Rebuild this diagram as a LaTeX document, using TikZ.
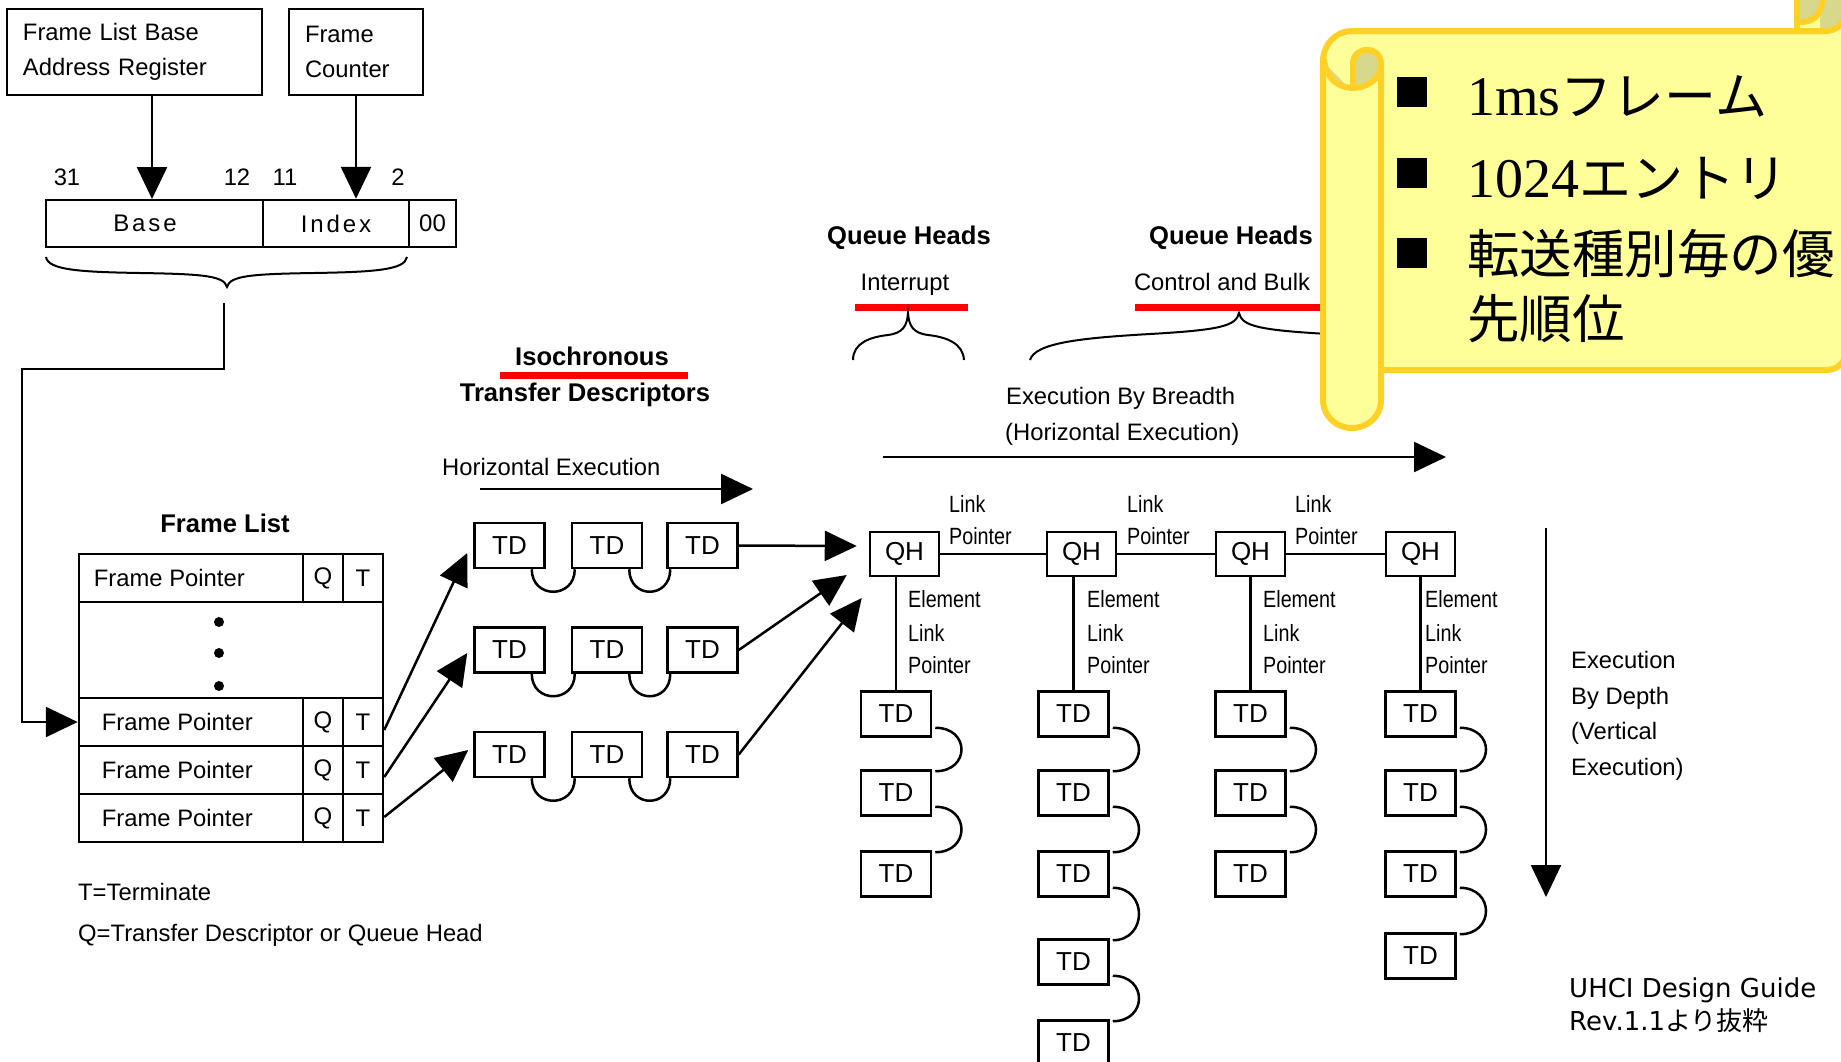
\documentclass[tikz,border=0pt]{standalone}
\usepackage{fontspec}
\setmainfont{Liberation Sans}
\newfontfamily\narrowfont[FakeStretch=0.84]{Liberation Sans}
\newfontfamily\cjkfont{Noto Sans CJK JP}
\newfontfamily\numserif{Liberation Serif}
\newfontfamily\dvsans{DejaVu Sans}
\usetikzlibrary{arrows.meta,calc}
\newcommand\myfs[1]{\fontsize{#1}{#1}\selectfont}
\definecolor{scrollfill}{RGB}{255,255,153}
\definecolor{scrollline}{RGB}{255,208,38}
\definecolor{scrolldark}{RGB}{216,216,140}
\tikzset{
  lbl/.style={inner sep=0pt, text height=17pt, text depth=0pt, font=\myfs{23.8}},
  nlbl/.style={inner sep=0pt, text height=17pt, text depth=0pt, font=\narrowfont\myfs{23.5}},
  blbl/.style={inner sep=0pt, text height=18pt, text depth=0pt, font=\myfs{25.6}\bfseries},
  cell/.style={draw, line width=2.5pt, inner sep=0pt, font=\myfs{24}},
  regbox/.style={draw, line width=2.5pt, minimum height=86pt, inner xsep=16pt, inner ysep=0pt, align=left, font=\fontsize{23.8}{35}\selectfont},
  tdbox/.style={draw, line width=2.5pt, inner sep=0pt, minimum width=70pt, minimum height=45pt, font=\myfs{26}},
  qhbox/.style={tdbox, minimum width=69pt, minimum height=44pt},
  conn/.style={line width=2.5pt},
  arr/.style={line width=2.5pt, -{Triangle[length=32pt,width=30pt]}},
  redbar/.style={line width=7pt, red},
  sstroke/.style={line width=6pt, draw=scrollline, line join=round, line cap=round},
  bulletsq/.style={fill=black, minimum size=30pt, inner sep=0pt},
}
\begin{document}
\begin{tikzpicture}[x=1pt,y=-1pt]
\useasboundingbox (0,0) rectangle (1841,1061);
\clip (0,0) rectangle (1841,1061);

% ---------- registers ----------
\node[regbox, text width=223pt] (flbar) at (134.5,52) {Frame List Base\\Address Register};
\node[regbox, text width=102pt] (fc) at (356,52) {Frame\\Counter};
\node[lbl] (n31) at (67,177) {31};
\node[lbl] (n12) at (237,177) {12};
\node[lbl] (n11) at (285,177) {11};
\node[lbl] (n2) at (398,177) {2};
\node[cell, minimum width=217pt, minimum height=47pt] (rbase) at (154.5,223.5) {};
\node[inner sep=0pt, font=\myfs{24}\addfontfeature{LetterSpace=12}] (rbaset) at (145,223.5) {Base};
\node[cell, minimum width=146pt, minimum height=47pt, font=\myfs{24}\addfontfeature{LetterSpace=12}] (ridx) at (336,223.5) {Index};
\node[cell, minimum width=47pt, minimum height=47pt] (rzz) at (432.5,223.5) {00};
\coordinate (basein) at (152,199);
\draw[arr] (flbar.south -| basein) -- (basein);
\draw[arr] (fc.south) -- (fc.south |- ridx.north);
\draw[line width=2pt] (46,257) .. controls (48,270) and (80,272) .. (140,273) .. controls (205,274) and (224,276) .. (227,287) .. controls (230,276) and (249,274) .. (314,273) .. controls (374,272) and (405,270) .. (407,257);

% ---------- frame list ----------
\node[blbl] (fltitle) at (225,523) {Frame List};
\node[cell, minimum width=224pt, minimum height=48pt] (fp0) at (191,578) {};
\node[cell, minimum width=40pt, minimum height=48pt] (q0) at (323,578) {Q};
\node[cell, minimum width=40pt, minimum height=48pt] (t0) at (363,578) {T};
\node[lbl, anchor=west] (fpt0) at ($(fp0.west)+(16,0)$) {Frame Pointer};
\node[cell, minimum width=304pt, minimum height=96pt] (dotbox) at (231,650) {};
\fill (219,622) circle (5pt);
\fill (219,653) circle (5pt);
\fill (219,686) circle (5pt);
\foreach \i/\y in {1/722,2/770,3/818} {
  \node[cell, minimum width=224pt, minimum height=48pt] (fp\i) at (191,\y) {};
  \node[cell, minimum width=40pt, minimum height=48pt] (q\i) at (323,\y) {Q};
  \node[cell, minimum width=40pt, minimum height=48pt] (t\i) at (363,\y) {T};
  \node[lbl, anchor=west] (fpt\i) at ($(fp\i.west)+(24,0)$) {Frame Pointer};
}
\coordinate (bstem) at (224,303);
\draw[arr] (bstem) -- (224,369) -- (22,369) |- (fp1.west);
\node[lbl, anchor=west] (leg1) at (78,892) {T=Terminate};
\node[lbl, anchor=west] (leg2) at (78,933) {Q=Transfer Descriptor or Queue Head};

% ---------- isochronous TDs ----------
\node[blbl] (isoA) at (592,356) {Isochronous};
\draw[redbar] (500,375) -- (688,375);
\node[blbl] (isoB) at (585,392) {Transfer Descriptors};
\node[lbl, anchor=west] (hexec) at (442,467) {Horizontal Execution};
\coordinate (hx0) at (480,489);
\coordinate (hx1) at (753,489);
\draw[arr] (hx0) -- (hx1);
\foreach \rw/\y in {1/545.5,2/650,3/754.5} {
  \foreach \cl/\x in {1/509.5,2/607,3/702.5} {
    \node[tdbox] (td\rw\cl) at (\x,\y) {TD};
  }
  \draw[conn] ($(td\rw1.south east)+(-14,0)$) .. controls +(0,30) and +(0,30) .. ($(td\rw2.south west)+(4,0)$);
  \draw[conn] ($(td\rw2.south east)+(-14,0)$) .. controls +(0,30) and +(0,30) .. ($(td\rw3.south west)+(4,0)$);
}
\draw[arr] ($(t1.east)+(0,8)$) -- ($(td11.west)+(-6,7.5)$);
\draw[arr] ($(t2.east)+(0,7)$) -- ($(td21.west)+(-6,3)$);
\draw[arr] ($(t3.east)+(0,-1)$) -- ($(td31.west)+(-5,-4.5)$);

% ---------- queue heads ----------
\node[blbl] (qhA) at (909,235) {Queue Heads};
\node[lbl] (intr) at (905,282) {Interrupt};
\draw[redbar] (855,307) -- (968,307);
\node[blbl] (qhB) at (1231,235) {Queue Heads};
\node[lbl] (cab) at (1222,282) {Control and Bulk};
\draw[redbar] (1135,307) -- (1335,307);
\draw[line width=2pt] (853,360) .. controls (853,343) and (870,337) .. (888,335) .. controls (903,333) and (907,326) .. (908,313) .. controls (909,326) and (913,333) .. (928,335) .. controls (946,337) and (963,343) .. (964,360);
\draw[line width=2pt] (1030,360) .. controls (1035,343) and (1080,338) .. (1150,334) .. controls (1220,330) and (1236,326) .. (1239,313) .. controls (1242,326) and (1258,330) .. (1328,334) .. controls (1398,338) and (1443,343) .. (1448,360);
\node[lbl, anchor=west] (eb1) at (1006,396) {Execution By Breadth};
\node[lbl, anchor=west] (eb2) at (1005,432) {(Horizontal Execution)};
\coordinate (bx0) at (883,457);
\coordinate (bx1) at (1446,457);
\draw[arr] (bx0) -- (bx1);

\node[qhbox] (qh1) at (904.5,554) {QH};
\node[qhbox] (qh2) at (1081.5,554) {QH};
\node[qhbox] (qh3) at (1250.5,554) {QH};
\node[qhbox] (qh4) at (1420.5,554) {QH};
\draw[conn] (qh1) -- (qh2);
\draw[conn] (qh2) -- (qh3);
\draw[conn] (qh3) -- (qh4);
\foreach \k/\x in {1/949,2/1127,3/1295} {
  \node[nlbl, anchor=west] (lk\k) at (\x,504) {Link};
  \node[nlbl, anchor=west] (lp\k) at (\x,536) {Pointer};
}
\draw[arr] (td13.east) -- ($(qh1.west)+(-12,-8)$);
\draw[arr] (td23.east) -- ($(qh1.west)+(-22,21)$);
\draw[arr] (td33.east) -- ($(qh1.west)+(-7,44)$);

% vertical TD chains
\foreach \rw/\y in {1/714,2/793,3/874} {
  \node[tdbox] (ca\rw) at (896,\y) {TD};
  \node[tdbox] (cb\rw) at (1073.5,\y) {TD};
  \node[tdbox] (cc\rw) at (1250.5,\y) {TD};
  \node[tdbox] (cd\rw) at (1420.5,\y) {TD};
}
\node[tdbox] (cb4) at (1073.5,962) {TD};
\node[tdbox] (cb5) at (1073.5,1043) {TD};
\node[tdbox] (cd4) at (1420.5,956) {TD};
\draw[conn] (ca1.north) -- (ca1.north |- qh1.south);
\draw[conn] (cb1.north) -- (cb1.north |- qh2.south);
\draw[conn] (cc1.north) -- (cc1.north |- qh3.south);
\draw[conn] (cd1.north) -- (cd1.north |- qh4.south);
\foreach \k/\x in {1/908,2/1087,3/1263,4/1425} {
  \node[nlbl, anchor=west] (ee\k) at (\x,599) {Element};
  \node[nlbl, anchor=west] (el\k) at (\x,633) {Link};
  \node[nlbl, anchor=west] (ep\k) at (\x,665) {Pointer};
}
\foreach \a/\b in {ca1/ca2,ca2/ca3,cb1/cb2,cb2/cb3,cb3/cb4,cb4/cb5,cc1/cc2,cc2/cc3,cd1/cd2,cd2/cd3,cd3/cd4} {
  \draw[conn] ($(\a.south east)+(3,-10)$) .. controls +(35,0) and +(35,0) .. ($(\b.north east)+(3,2)$);
}

% depth
\coordinate (dp0) at (1546,528);
\coordinate (dp1) at (1546,897);
\draw[arr] (dp0) -- (dp1);
\node[anchor=west, inner sep=0pt, align=left, font=\fontsize{23.8}{35.5}\selectfont] (depthlbl) at (1571,716) {Execution\\By Depth\\(Vertical\\Execution)};

% source
\node[anchor=west, inner sep=0pt, font=\dvsans\myfs{26}] (src1) at (1569,990) {UHCI Design Guide};
\node[anchor=west, inner sep=0pt, font=\dvsans\myfs{26}] (src2) at (1569,1021) {Rev.1.1{\cjkfont より抜粋}};

% ---------- scroll ----------
\fill[scrolldark] (1797,-10) rectangle (1850,29);
\fill[scrollfill] (1800,22) .. controls (1810,22) and (1817,18) .. (1820,10) -- (1820,29) -- (1800,29) -- cycle;
\draw[sstroke] (1800,22) .. controls (1810,22) and (1817,18) .. (1820,10) .. controls (1822,5) and (1823,0) .. (1823,-10);
\draw[sstroke] (1797,-10) -- (1797,31);
\draw[sstroke, fill=scrollfill] (1323,62) .. controls (1323,44) and (1336,31) .. (1352,31) -- (1825,31) .. controls (1835,31) and (1843,25) .. (1846,15) -- (1846,350) .. controls (1846,362) and (1838,370) .. (1826,370) -- (1381,370) -- (1381,400) .. controls (1381,416) and (1368,428) .. (1352,428) .. controls (1336,428) and (1323,416) .. (1323,400) -- cycle;
\fill[scrolldark] (1353,84) -- (1353,64) .. controls (1353,45) and (1381,45) .. (1381,64) -- (1381,72) .. controls (1374,82) and (1364,87) .. (1353,87) -- cycle;
\fill[scrolldark] (1327,66) -- (1347,86) .. controls (1338,84) and (1330,76) .. (1327,66) -- cycle;
\draw[sstroke] (1353,84) -- (1353,64) .. controls (1353,45) and (1381,45) .. (1381,64) -- (1381,370);
\draw[sstroke] (1324,60) .. controls (1326,78) and (1338,88) .. (1353,88) .. controls (1366,88) and (1377,80) .. (1381,70);
\node[bulletsq] (bl1) at (1412,92) {};
\node[bulletsq] (bl2) at (1412,173) {};
\node[bulletsq] (bl3) at (1412,253) {};
\node[anchor=base west, inner sep=0pt] (st1) at (1467,115) {\numserif\myfs{56}1ms\cjkfont\myfs{52}フレーム};
\node[anchor=base west, inner sep=0pt] (st2) at (1467,197) {\numserif\myfs{56}1024\cjkfont\myfs{52}エントリ};
\node[anchor=base west, inner sep=0pt, font=\cjkfont\myfs{52.5}] (st3) at (1467,273) {転送種別毎の優};
\node[anchor=base west, inner sep=0pt, font=\cjkfont\myfs{52.5}] (st4) at (1467,338) {先順位};
\end{tikzpicture}
\end{document}
